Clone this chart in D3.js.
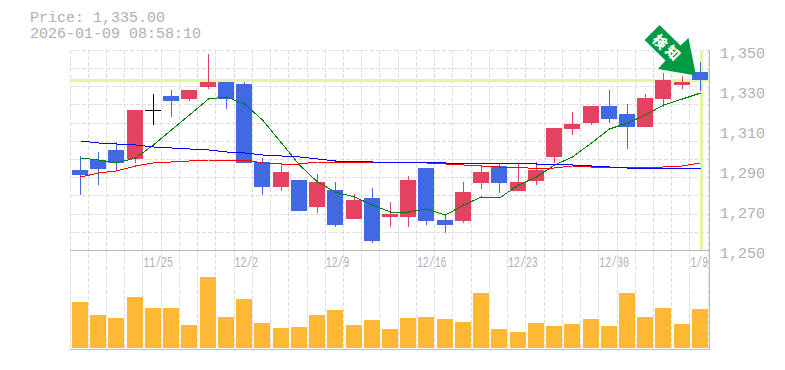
<!DOCTYPE html>
<html>
<head>
<meta charset="utf-8">
<script src="https://cdn.jsdelivr.net/npm/d3@7"></script>
<style>
html, body { margin: 0; padding: 0; background: #fff; }
svg { display: block; }
text { font-family: "Liberation Mono", monospace; fill: #b0b0b0; }
</style>
</head>
<body>
<script>
const dates = ["11/18","11/19","11/20","11/21","11/25","11/26","11/27","11/28","12/1","12/2",
    "12/3","12/4","12/5","12/8","12/9","12/10","12/11","12/12","12/15","12/16",
    "12/17","12/18","12/19","12/22","12/23","12/24","12/25","12/26","12/29","12/30",
    "1/5","1/6","1/7","1/8","1/9"];
const tickDates = ["11/25","12/2","12/9","12/16","12/23","12/30","1/9"];
const priceTicks = [1250,1270,1290,1310,1330,1350];

const open = [1290,1295,1300,1295.5,1320,1327,1325.5,1331.5,1334,1333,
    1294,1281.5,1285,1271.5,1280,1265.5,1276,1266.5,1266.5,1291,
    1265,1264.5,1283.5,1292,1279.5,1284.5,1296.5,1310.5,1313.5,1322,
    1318,1311.5,1325.5,1332.5,1339];
const close = [1287.5,1290.5,1293.5,1320,1320,1324.5,1330,1334,1325.5,1293.5,
    1281.5,1289,1269.5,1284,1262.5,1275,1254.5,1268,1285,1264.5,
    1262.5,1279,1289,1283.5,1284,1290,1311,1313,1322,1315.5,
    1311.5,1326,1335,1334,1335];
const high = [1297,1299,1304,1320,1328,1330,1330,1348,1334,1334,
    1296,1292,1285,1288,1284,1278,1281,1274,1287,1291,
    1267.5,1284,1292,1293.5,1293.5,1294,1311,1319,1322,1330,
    1323,1328,1338.5,1337,1344];
const low = [1277.5,1282.5,1289.5,1293.5,1312.5,1316.5,1324.5,1330.5,1320.5,1293.5,
    1277.5,1279.5,1269.5,1268.5,1261.5,1265.5,1253.5,1261.5,1261.5,1262.5,
    1258.5,1263.5,1280.5,1278.5,1279.5,1282.5,1293.5,1307.5,1312.5,1313.5,
    1300.5,1311.5,1321.5,1330.5,1329.5];

const maShort = [1296,1295,1293.5,1296,1302.5,1310,1317.5,1325.5,1326.5,1323,
    1315,1303.5,1292.5,1284,1279,1276.5,1272.5,1269,1269,1270.5,
    1267.5,1272.5,1276.5,1276,1282.5,1286.5,1292.5,1296.5,1303.5,1310.5,
    1313.5,1317.5,1322.5,1325.5,1328.5];
const maMid = [1286.5,1288.5,1289.5,1292,1293.5,1294,1294.5,1295,1295,1295,
    1293.5,1293,1293,1294,1294,1294,1294,1294,1294,1293.5,
    1293,1292.5,1292,1291.5,1291.5,1290.5,1291,1292,1291.5,1291.5,
    1291.5,1291.5,1291.5,1292,1293.5];
const maLong = [1304.5,1303.5,1303,1302.5,1301.5,1301,1300.5,1300,1299,1298.5,
    1297.5,1297,1296.5,1295.5,1294.5,1294.5,1294,1294,1294,1294,
    1293.5,1293.5,1293.5,1293.5,1293.5,1293,1293,1292.5,1292,1291.5,
    1291,1291,1291,1291,1291];

const volume = [46,33,30,51,40,40,23,71,31,49,25,20,21,33,38,23,28,19,
    30,31,29,26,55,19,16,25,22,24,29,22,55,31,40,24,39];

const lastPrice = 1335;
const priceLabel = "Price: 1,335.00";
const timeLabel = "2026-01-09 08:58:10";
const arrowLabel = ["検","知"];

const xSize = 785, ySize = 370;
const blue = "#4169e1", red = "#e34260", grid = "#ddd", axis = "#bbb", mark = "#e2f5ab";

const svg = d3.select("body").append("svg")
    .attr("width", xSize)
    .attr("height", ySize);

let x = d3.scaleBand().domain(dates).range([70, 708.2]);
let y = d3.scaleLinear().domain([1250,1350]).range([250,50]);
let yVol = d3.scaleLinear().domain([0,100]).range([348,248]);
let gridRow = d3.scaleLinear().domain([0,11]).range([50.4,250.4]);

const barLeft = d => Math.round(x(d) + 2);
const mid = d => barLeft(d) + 8.5;

// Dashed grid, columns run down through the volume panel
const gridLayer = svg.append("g")
    .attr("stroke", grid)
    .attr("stroke-dasharray", "4,2")
    .attr("shape-rendering", "crispEdges");

gridLayer.selectAll("line.col")
    .data(dates.concat(["end"]))
    .enter().append("line")
    .attr("x1", (d,i) => Math.floor(70 + x.step()*i) + 0.5)
    .attr("x2", (d,i) => Math.floor(70 + x.step()*i) + 0.5)
    .attr("y1", 50)
    .attr("y2", 350);

gridLayer.selectAll("line.row")
    .data(d3.range(0,11))
    .enter().append("line")
    .attr("x1", 70)
    .attr("x2", 710)
    .attr("y1", d => Math.floor(gridRow(d)) + 0.5)
    .attr("y2", d => Math.floor(gridRow(d)) + 0.5);

// Frame lines
const frame = svg.append("g")
    .attr("stroke", axis)
    .attr("stroke-width", 1)
    .attr("shape-rendering", "crispEdges");
frame.append("line").attr("x1",70).attr("x2",710).attr("y1",250.5).attr("y2",250.5);
frame.append("line").attr("x1",70).attr("x2",710).attr("y1",349.5).attr("y2",349.5);
frame.append("line").attr("x1",709.5).attr("x2",709.5).attr("y1",50).attr("y2",350);

// Current price and current time markers
svg.append("line")
    .attr("x1",70).attr("x2",709)
    .attr("y1",y(lastPrice)+0.5).attr("y2",y(lastPrice)+0.5)
    .attr("stroke",mark).attr("stroke-width",3)
    .attr("shape-rendering","crispEdges");
svg.append("line")
    .attr("x1",mid("1/9")+0.5).attr("x2",mid("1/9")+0.5)
    .attr("y1",50).attr("y2",250)
    .attr("stroke",mark).attr("stroke-width",3)
    .attr("shape-rendering","crispEdges");

// Candles
const candle = svg.selectAll("g.candle")
    .data(dates)
    .enter().append("g")
    .attr("class","candle")
    .attr("shape-rendering","crispEdges");

const candleColor = (d,i) => open[i] == close[i] ? "#000" : (close[i] < open[i] ? blue : red);

candle.append("line")
    .attr("x1", mid).attr("x2", mid)
    .attr("y1", (d,i) => y(high[i]))
    .attr("y2", (d,i) => y(low[i]))
    .attr("stroke", candleColor);

candle.append("rect")
    .attr("x", barLeft)
    .attr("width", 16)
    .attr("y", (d,i) => y(Math.max(open[i],close[i])))
    .attr("height", (d,i) => Math.max(1, Math.abs(y(open[i])-y(close[i]))))
    .attr("fill", candleColor);

// Moving averages
let maLine = d3.line()
    .x((d,i) => mid(dates[i]))
    .y(d => y(d));

[[maShort,"#008000"],[maMid,"#f00"],[maLong,"#00f"]].forEach(function(s){
    svg.append("path")
        .attr("d", maLine(s[0]))
        .attr("fill","none")
        .attr("stroke",s[1])
        .attr("stroke-width",1)
        .attr("shape-rendering","crispEdges");
});

// Volume
svg.selectAll("rect.vol")
    .data(dates)
    .enter().append("rect")
    .attr("class","vol")
    .attr("x", barLeft)
    .attr("width", 16)
    .attr("y", (d,i) => yVol(volume[i]))
    .attr("height", (d,i) => yVol(0) - yVol(volume[i]))
    .attr("fill","#ffb833")
    .attr("shape-rendering","crispEdges");

// Axis labels
svg.selectAll("text.price")
    .data(priceTicks)
    .enter().append("text")
    .attr("class","price")
    .attr("x",720)
    .attr("y",d => y(d)+8)
    .style("font-size","15px")
    .text(d => d3.format(",")(d));

svg.selectAll("text.date")
    .data(tickDates)
    .enter().append("text")
    .attr("class","date")
    .attr("x",d => x(d)+0.5)
    .attr("y",267)
    .attr("textLength",d => d.length*5.9)
    .attr("lengthAdjust","spacingAndGlyphs")
    .style("font-size","14px")
    .text(d => d);

// Header
[priceLabel,timeLabel].forEach(function(d,i){
    svg.append("text")
        .attr("x",30)
        .attr("y",21.5 + i*16)
        .attr("textLength",d.length*9)
        .attr("lengthAdjust","spacingAndGlyphs")
        .style("font-size","14px")
        .text(d);
});

// Arrow pointing at the last candle, points are offsets from the tip
const tipX = mid("1/9") - 4.5, tipY = y(lastPrice) - 4.5;
const arrowShape = [[0,0],[-38,-6.5],[-30.5,-15],[-51.5,-35.5],[-36.5,-50.5],[-15.5,-30],[-7.5,-37.5]];
const arrow = svg.append("g").attr("transform","translate(" + tipX + "," + tipY + ")");
arrow.append("polygon")
    .attr("points", arrowShape.map(p => p.join(",")).join(" "))
    .attr("fill","#009944");
arrow.selectAll("text")
    .data(arrowLabel)
    .enter().append("text")
    .attr("transform",(d,i) => "translate(" + (-36 + i*12.7) + "," + (-33.5 + i*11) + ") rotate(45)")
    .attr("text-anchor","middle")
    .attr("dy","0.36em")
    .style("font-family","'Noto Sans CJK JP'")
    .style("font-weight","900")
    .style("font-size","14px")
    .style("fill","#fff")
    .text(d => d);
</script>
</body>
</html>
